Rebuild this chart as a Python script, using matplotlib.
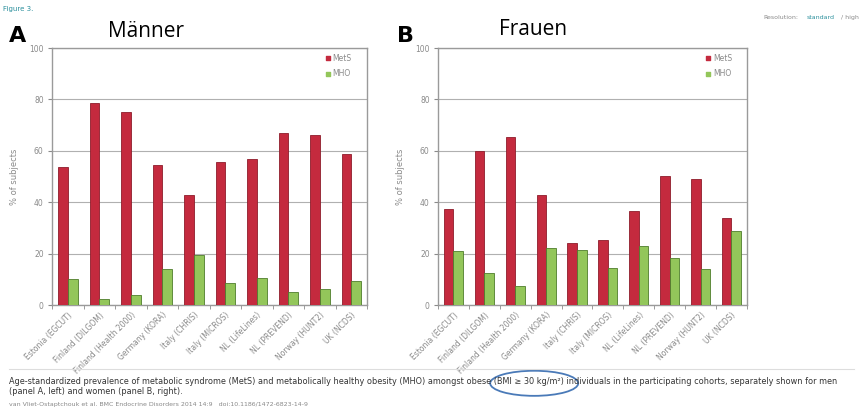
import numpy as np
import matplotlib
matplotlib.use("Agg")
import matplotlib.pyplot as plt
from matplotlib.patches import Ellipse

cohorts = ["Estonia (EGCUT)", "Finland (DILGOM)", "Finland (Health 2000)", "Germany (KORA)",
           "Italy (CHRIS)", "Italy (MICROS)", "NL (LifeLines)", "NL (PREVEND)",
           "Norway (HUNT2)", "UK (NCDS)"]
men_mets = [53.8, 78.7, 75.0, 54.6, 42.9, 55.6, 56.7, 67.0, 66.1, 58.8]
men_mho = [10.0, 2.2, 3.8, 13.9, 19.4, 8.4, 10.4, 5.2, 6.1, 9.2]
women_mets = [37.4, 60.0, 65.2, 42.8, 24.0, 25.3, 36.6, 50.2, 49.0, 34.0]
women_mho = [21.0, 12.3, 7.5, 22.0, 21.4, 14.5, 23.1, 18.4, 13.9, 28.8]
yticks = [0, 20, 40, 60, 80, 100]

red = "#C42A3E"
red_edge = "#8E1C2B"
green = "#93C65A"
green_edge = "#4F7D2C"
grey = "#8a8a8a"

plt.rcParams["font.family"] = ["DejaVu Sans"]

fig = plt.figure(figsize=(8.63, 4.18), dpi=100)
axA = fig.add_axes([0.0603, 0.2703, 0.3650, 0.6148])
axB = fig.add_axes([0.5075, 0.2703, 0.3580, 0.6148])


def draw_panel(ax, mets, mho):
    x = np.arange(len(cohorts))
    w = 0.31
    ax.bar(x - w / 2, mets, w, color=red, edgecolor=red_edge, linewidth=0.6, zorder=3)
    ax.bar(x + w / 2, mho, w, color=green, edgecolor=green_edge, linewidth=0.6, zorder=3)
    ax.set_xlim(-0.5, len(cohorts) - 0.5)
    ax.set_ylim(0, 100)
    ax.set_yticks(yticks)
    ax.set_yticklabels([str(v) for v in yticks], fontsize=5.5, color=grey)
    ax.yaxis.grid(True, color="#b0b0b0", linewidth=0.8, zorder=0)
    ax.set_xticks(x)
    ax.set_xticklabels(cohorts, rotation=45, ha="right", rotation_mode="anchor",
                       fontsize=5.5, color=grey)
    ax.set_xticks(np.arange(len(cohorts) + 1) - 0.5, minor=True)
    ax.tick_params(axis="x", which="major", length=0, pad=4)
    ax.tick_params(axis="x", which="minor", length=3, color=grey)
    ax.tick_params(axis="y", length=3, color=grey, pad=3)
    for s in ax.spines.values():
        s.set_color("#9a9a9a")
        s.set_linewidth(1.0)
    ax.set_ylabel("% of subjects", fontsize=6, color=grey, labelpad=7)
    ax.text(0.89, 0.96, "MetS", transform=ax.transAxes, fontsize=5.5, color=grey, va="center")
    ax.text(0.89, 0.90, "MHO", transform=ax.transAxes, fontsize=5.5, color=grey, va="center")
    ax.scatter([0.875], [0.96], marker="s", s=8, color=red, transform=ax.transAxes, clip_on=False)
    ax.scatter([0.875], [0.90], marker="s", s=8, color=green, transform=ax.transAxes, clip_on=False)


draw_panel(axA, men_mets, men_mho)
draw_panel(axB, women_mets, women_mho)

# panel letters and titles
fig.text(0.010, 0.900, "A", fontsize=16, fontweight="bold", ha="left", va="baseline")
fig.text(0.460, 0.900, "B", fontsize=16, fontweight="bold", ha="left", va="baseline")
fig.text(0.125, 0.911, "Männer", fontsize=15, family="Open Sans", ha="left", va="baseline")
fig.text(0.578, 0.916, "Frauen", fontsize=15, family="Open Sans", ha="left", va="baseline")

fig.text(0.004, 0.985, "Figure 3.", fontsize=5, color="#2a8f9c", ha="left", va="top")
fig.text(0.885, 0.965, "Resolution:", fontsize=4.5, color=grey, ha="left", va="top")
fig.text(0.935, 0.965, "standard", fontsize=4.5, color="#2a8f9c", ha="left", va="top")
fig.text(0.975, 0.965, "/ high", fontsize=4.5, color=grey, ha="left", va="top")

# caption
fig.add_artist(plt.Line2D([0.01, 0.99], [0.117, 0.117], color="#dddddd", linewidth=0.8))
fig.text(0.010, 0.088,
         "Age-standardized prevalence of metabolic syndrome (MetS) and metabolically healthy obesity (MHO) "
         "amongst obese (BMI \u2265 30 kg/m\u00b2) individuals in the participating cohorts, separately shown for men",
         fontsize=5.85, color="#333333", ha="left", va="center")
fig.text(0.010, 0.064, "(panel A, left) and women (panel B, right).",
         fontsize=5.85, color="#333333", ha="left", va="center")
fig.text(0.010, 0.033,
         "van Vliet-Ostaptchouk et al. BMC Endocrine Disorders 2014 14:9   doi:10.1186/1472-6823-14-9",
         fontsize=4.5, color="#888888", ha="left", va="center")
fig.add_artist(Ellipse((0.619, 0.083), 0.102, 0.060, transform=fig.transFigure,
                       fill=False, edgecolor="#4a7ab8", linewidth=1.3))

fig.savefig("out.png", dpi=100)
